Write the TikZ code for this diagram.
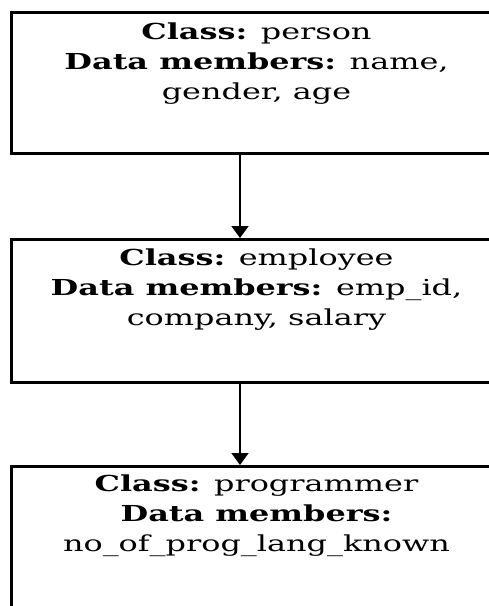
\documentclass[tikz,border=0pt]{standalone}
\usepackage{fontspec}
\setmainfont[FakeStretch=1.45]{DejaVu Serif}
\usetikzlibrary{arrows.meta,calc}
\begin{document}
\begin{tikzpicture}[x=1pt,y=-1pt,
  classbox/.style={draw=black,line width=3pt,minimum width=490pt,inner sep=0pt,anchor=north west},
  classtext/.style={anchor=north,align=center,inner sep=0pt,font=\fontsize{22}{30}\selectfont},
  inherit/.style={line width=1.8pt,-{Triangle[width=17pt,length=12pt]}}]
\useasboundingbox (0,0) rectangle (489,606);
\clip (0,0) rectangle (489,606);
% the three classes of the hierarchy
\node[classbox,minimum height=141pt] (person) at (10,10.5) {};
\node[classbox,minimum height=143pt] (employee) at (10,238) {};
\node[classbox,minimum height=160pt] (programmer) at (10,465) {};
\node[classtext] (persontxt) at ($(person.north)+(0,12.5)$)
  {\textbf{Class:} person\\ \textbf{Data members:} name,\\ gender, age};
\node[classtext] (employeetxt) at ($(employee.north)+(0,10.5)$)
  {\textbf{Class:} employee\\ \textbf{Data members:} emp\_id,\\ company, salary};
\node[classtext] (programmertxt) at ($(programmer.north)+(0,10)$)
  {\textbf{Class:} programmer\\ \textbf{Data members:}\\ no\_of\_prog\_lang\_known};
% inheritance arrows
\coordinate (axis) at (240,0);
\draw[inherit] (person.south -| axis) -- (employee.north -| axis);
\draw[inherit] (employee.south -| axis) -- (programmer.north -| axis);
\end{tikzpicture}
\end{document}
